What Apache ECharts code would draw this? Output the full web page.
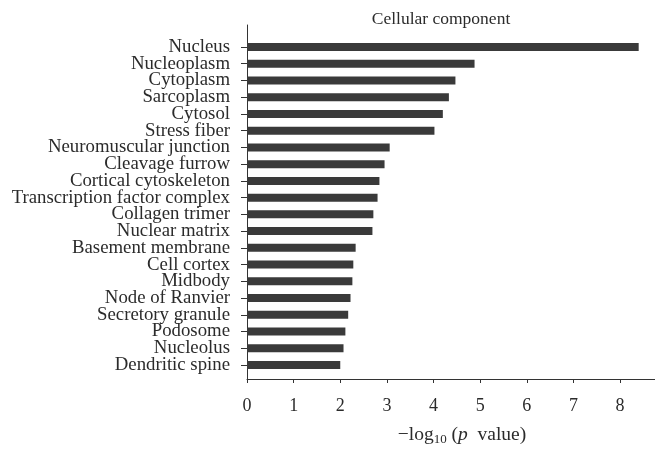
<!DOCTYPE html>
<html>
<head>
<meta charset="utf-8">
<script src="https://cdn.jsdelivr.net/npm/echarts@6/dist/echarts.min.js"></script>
<style>html,body{margin:0;padding:0;background:#fff}#c{width:655px;height:451px}</style>
</head>
<body>
<div id="c"></div>
<script>
const categories = ["Nucleus","Nucleoplasm","Cytoplasm","Sarcoplasm","Cytosol","Stress fiber","Neuromuscular junction","Cleavage furrow","Cortical cytoskeleton","Transcription factor complex","Collagen trimer","Nuclear matrix","Basement membrane","Cell cortex","Midbody","Node of Ranvier","Secretory granule","Podosome","Nucleolus","Dendritic spine"];
const values = [8.40,4.88,4.47,4.33,4.20,4.02,3.06,2.95,2.84,2.80,2.71,2.69,2.33,2.28,2.26,2.22,2.17,2.11,2.07,2.00];
const xTicks = [0,1,2,3,4,5,6,7,8];

const FONT = '"Liberation Serif", "DejaVu Serif", serif';
const TXT = '#2b2b2b';
const chart = echarts.init(document.getElementById('c'));
chart.setOption({
  animation: false,
  title: {
    text: 'Cellular component',
    left: 436, top: 5, textAlign: 'center',
    textStyle: {fontFamily: FONT, fontSize: 17.5, fontWeight: 'normal', color: TXT}
  },
  grid: [
    {left: 247, width: 408, top: 38.6, height: 334.8},
    {left: 247, width: 408, top: 25, height: 361}
  ],
  xAxis: [
    {gridIndex: 0, type: 'value', min: 0, max: 8.75, show: false, splitLine: {show: false}},
    {gridIndex: 1, type: 'value', min: 0, max: 8.75, interval: 1,
     splitLine: {show: false},
     axisLine: {show: true, lineStyle: {color: '#333', width: 1}},
     axisTick: {show: true, length: 4, lineStyle: {color: '#333'}, customValues: xTicks},
     axisLabel: {fontFamily: FONT, fontSize: 18, color: TXT, margin: 18, customValues: xTicks},
     name: '{a|−log}{s|10}{a| (}{i|p}{a|  value)}',
     nameLocation: 'middle', nameGap: 44,
     nameTextStyle: {
       padding: [0, 0, 0, 22],
       rich: {
         a: {fontFamily: FONT, fontSize: 19.5, color: TXT},
         s: {fontFamily: FONT, fontSize: 13, color: TXT, verticalAlign: 'bottom', padding: [10, 0, 0, 0]},
         i: {fontFamily: FONT, fontSize: 19.5, color: TXT, fontStyle: 'italic'}
       }
     }
    }
  ],
  yAxis: [
    {gridIndex: 0, type: 'category', data: categories, inverse: true,
     axisLine: {show: false},
     axisTick: {show: true, alignWithLabel: true, interval: 0, length: 6, lineStyle: {color: '#333'}},
     axisLabel: {fontFamily: FONT, fontSize: 18.8, color: TXT, margin: 17, interval: 0},
     splitLine: {show: false}
    },
    {gridIndex: 1, type: 'value', min: 0, max: 1,
     axisLine: {show: true, lineStyle: {color: '#333', width: 1}},
     axisTick: {show: false}, axisLabel: {show: false}, splitLine: {show: false}
    }
  ],
  series: [{
    type: 'bar', xAxisIndex: 0, yAxisIndex: 0,
    data: values, barWidth: 8,
    itemStyle: {color: '#3a3a3a'}
  }]
});
</script>
</body>
</html>
